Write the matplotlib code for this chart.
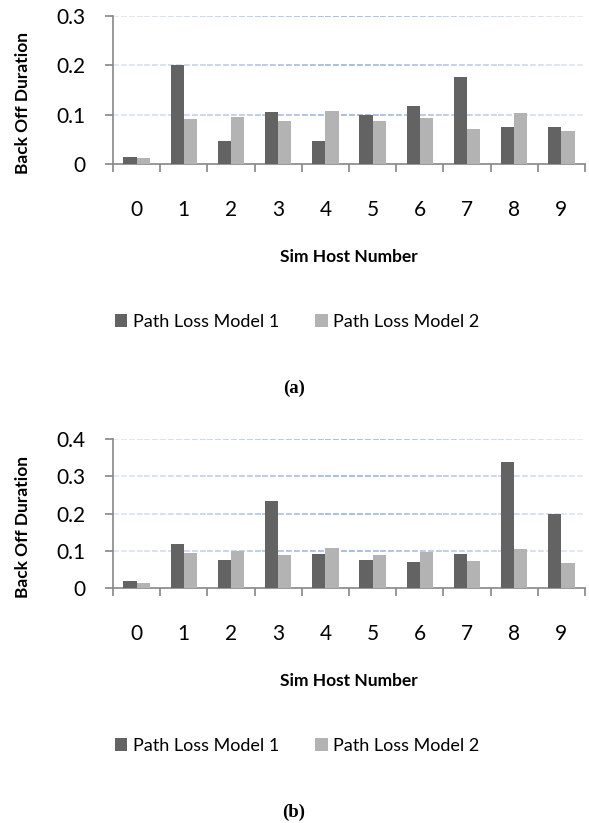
import numpy as np
import matplotlib
matplotlib.use("Agg")
import matplotlib.pyplot as plt
from matplotlib.colors import LinearSegmentedColormap

# ── data ────────────────────────────────────────────────────────────────
hosts = [0, 1, 2, 3, 4, 5, 6, 7, 8, 9]
series_names = ["Path Loss Model 1", "Path Loss Model 2"]

a_model1 = [0.0135, 0.201, 0.047, 0.105, 0.046, 0.100, 0.118, 0.176, 0.074, 0.074]
a_model2 = [0.012, 0.091, 0.096, 0.086, 0.107, 0.087, 0.094, 0.070, 0.104, 0.066]
a_yticks = [0, 0.1, 0.2, 0.3]

b_model1 = [0.020, 0.119, 0.074, 0.234, 0.091, 0.074, 0.071, 0.091, 0.337, 0.198]
b_model2 = [0.0125, 0.093, 0.098, 0.089, 0.108, 0.089, 0.096, 0.072, 0.106, 0.068]
b_yticks = [0, 0.1, 0.2, 0.3, 0.4]

# ── style ───────────────────────────────────────────────────────────────
W, H = 589, 823
DPI = 100
DARK = "#636363"
LIGHT = "#b3b3b3"
AXIS = "#868686"
FONT = ["Lato", "DejaVu Sans"]
# gridlines fade out toward both ends
grid_cmap = LinearSegmentedColormap.from_list("grid", ["#e3e9f6", "#a6bbe6", "#e3e9f6"])

plt.rcParams["font.family"] = FONT

fig = plt.figure(figsize=(W / DPI, H / DPI), dpi=DPI)


def px_axes(left, right, top, bottom):
    return [left / W, 1 - bottom / H, (right - left) / W, (bottom - top) / H]


def draw_panel(axis_box, m1, m2, yticks, caption, y_offset):
    ax = fig.add_axes(axis_box)
    x = np.arange(len(hosts))
    bw = 0.28
    ax.bar(x - bw / 2, m1, width=bw, color=DARK, label=series_names[0], zorder=3)
    ax.bar(x + bw / 2, m2, width=bw, color=LIGHT, label=series_names[1], zorder=3)

    ax.set_xlim(-0.5, len(hosts) - 0.5)
    ax.set_ylim(0, yticks[-1])

    # dashed gridlines with a soft gradient along their length
    n_seg = 60
    edges = np.linspace(-0.5, len(hosts) - 0.5, n_seg + 1)
    for yv in yticks[1:]:
        for i in range(n_seg):
            c = grid_cmap(i / (n_seg - 1))
            ax.hlines(yv, edges[i], edges[i + 1], color=c, lw=1.4,
                      linestyles=(0, (3, 1.5)), zorder=1)

    for s in ["top", "right"]:
        ax.spines[s].set_visible(False)
    for s in ["left", "bottom"]:
        ax.spines[s].set_color(AXIS)
        ax.spines[s].set_linewidth(1.2)

    ax.set_yticks(yticks)
    ax.set_yticklabels(["0" if v == 0 else f"{v:.1f}" for v in yticks])
    ax.tick_params(axis="y", length=6, width=1.2, color=AXIS, pad=14,
                   labelsize=15, labelcolor="black")

    # major ticks on category boundaries, labels on centres
    ax.set_xticks(np.arange(len(hosts) + 1) - 0.5)
    ax.set_xticklabels([])
    ax.tick_params(axis="x", which="major", length=6, width=1.2, color=AXIS)
    ax.set_xticks(x, minor=True)
    ax.set_xticklabels([str(h) for h in hosts], minor=True)
    ax.tick_params(axis="x", which="minor", length=0, pad=26, labelsize=15)

    fig.text(23 / W, 1 - (103 + y_offset) / H, "Back Off Duration", rotation=90,
             ha="center", va="center", fontsize=12.5, fontweight="bold")

    cx = (113 + 585) / 2 / W
    fig.text(cx, 1 - (257 + y_offset) / H, "Sim Host Number", ha="center", va="center",
             fontsize=12.5, fontweight="bold")

    handles, labels = ax.get_legend_handles_labels()
    fig.legend(handles, labels, loc="center", ncol=2,
               bbox_to_anchor=(297 / W, 1 - (322 + y_offset) / H),
               frameon=False, fontsize=13, handlelength=0.7, handleheight=0.7,
               handletextpad=0.3, columnspacing=2.0)

    fig.text(294 / W, 1 - (388 + y_offset) / H, caption, ha="center", va="center",
             fontsize=13.5, fontweight="bold", family=["Liberation Serif", "DejaVu Serif"])
    return ax


draw_panel(px_axes(113, 585, 15.7, 164), a_model1, a_model2, a_yticks, "(a)", 0)
draw_panel(px_axes(113, 585, 439, 588), b_model1, b_model2, b_yticks, "(b)", 424)

fig.savefig("out.png", dpi=DPI)
